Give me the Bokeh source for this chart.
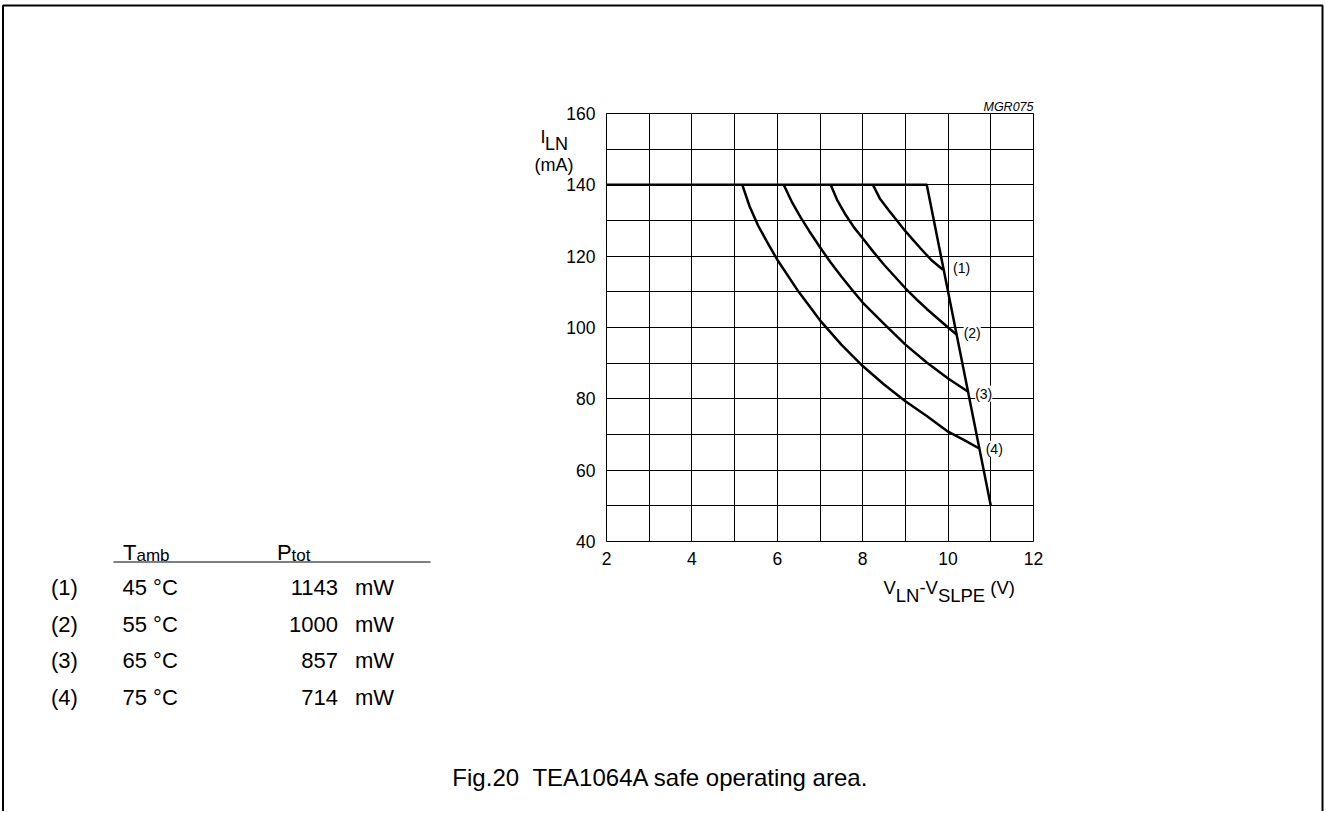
from bokeh.plotting import figure
from bokeh.models import Range1d, FixedTicker, LinearAxis, Grid
from bokeh.core.properties import value
from bokeh.embed import file_html
from bokeh.resources import INLINE

# ---------------- data ----------------
v_tick_values = [2, 4, 6, 8, 10, 12]
i_tick_values = [40, 60, 80, 100, 120, 140, 160]
v_grid_values = [2, 3, 4, 5, 6, 7, 8, 9, 10, 11, 12]
i_grid_values = [40, 50, 60, 70, 80, 90, 100, 110, 120, 130, 140, 150, 160]

limit_v = [2.0, 9.5, 11.0]
limit_i = [140, 140, 50]

curve1_v = [8.24, 8.4, 8.6, 8.8, 9.0, 9.2, 9.4, 9.6, 9.88]
curve1_i = [140, 136.2, 133.0, 130.0, 127.0, 124.3, 121.6, 119.0, 116.2]
curve2_v = [7.25, 7.4, 7.6, 7.8, 8.0, 8.25, 8.5, 8.75, 9.0, 9.25, 9.5, 9.75, 10.0, 10.2]
curve2_i = [140, 135.8, 131.6, 128.0, 125.0, 121.2, 117.6, 114.3, 111.0, 108.0, 105.2, 102.6, 100.0, 98.0]
curve3_v = [6.15, 6.35, 6.55, 6.75, 7.0, 7.25, 7.5, 7.75, 8.0, 8.5, 9.0, 9.5, 10.0, 10.47]
curve3_i = [140, 135.0, 130.8, 127.0, 122.5, 118.2, 114.3, 110.6, 107.0, 101.0, 95.2, 90.2, 85.7, 82.0]
curve4_v = [5.18, 5.35, 5.55, 5.75, 6.0, 6.5, 7.0, 7.5, 8.0, 8.5, 9.0, 9.5, 10.0, 10.4, 10.74]
curve4_i = [140, 134.0, 128.6, 124.2, 119.0, 110.0, 102.0, 95.2, 89.2, 84.0, 79.3, 75.2, 70.8, 68.3, 66.0]

curve_tags = ["(1)", "(2)", "(3)", "(4)"]
t_amb = ["45 \u00b0C", "55 \u00b0C", "65 \u00b0C", "75 \u00b0C"]
p_tot = ["1143", "1000", "857", "714"]
p_unit = ["mW", "mW", "mW", "mW"]

# ---------------- layout ----------------
FONT = "Liberation Sans"
W, H = 1324, 811
# pixel anchors of the chart box (v=2..12, i=40..160)
X0P, X1P = 606.0, 1033.0
YBP, YTP = 541.0, 113.0
KX = (X1P - X0P) / 10.0
KY = (YBP - YTP) / 120.0


def dx(px):
    return 2.0 + (px - X0P) / KX


def dy(py):
    return 160.0 - (py - YTP) / KY


p = figure(width=W, height=H,
           x_range=Range1d(dx(0), dx(W)),
           y_range=Range1d(dy(H), dy(0)),
           x_axis_type=None, y_axis_type=None,
           output_backend="svg", toolbar_location=None, tools="",
           min_border=0)
p.outline_line_color = None
p.background_fill_color = "white"
p.border_fill_color = "white"

# grid
gx = Grid(dimension=0, ticker=FixedTicker(ticks=v_grid_values), bounds=(2, 12),
          cross_bounds=(40, 160), grid_line_color="black", grid_line_width=1,
          grid_line_alpha=1.0)
gy = Grid(dimension=1, ticker=FixedTicker(ticks=i_grid_values), bounds=(40, 160),
          cross_bounds=(2, 12), grid_line_color="black", grid_line_width=1,
          grid_line_alpha=1.0)
p.add_layout(gx, "center")
p.add_layout(gy, "center")

# axes
xa = LinearAxis(ticker=FixedTicker(ticks=v_tick_values), fixed_location=40, bounds=(2, 12))
ya = LinearAxis(ticker=FixedTicker(ticks=i_tick_values), fixed_location=2, bounds=(40, 160))
for ax in (xa, ya):
    ax.major_tick_in = 0
    ax.major_tick_out = 0
    ax.minor_tick_in = 0
    ax.minor_tick_out = 0
    ax.axis_line_color = "black"
    ax.axis_line_width = 1
    ax.major_label_text_font = FONT
    ax.major_label_text_font_size = "17.5px"
    ax.major_label_text_color = "black"
xa.major_label_standoff = 10
ya.major_label_standoff = 11
p.add_layout(xa, "below")
p.add_layout(ya, "left")

# curves
lw = 2.5
p.line(limit_v, limit_i, line_color="black", line_width=lw, line_join="round")
for cv, ci in ((curve1_v, curve1_i), (curve2_v, curve2_i),
               (curve3_v, curve3_i), (curve4_v, curve4_i)):
    p.line(cv, ci, line_color="black", line_width=lw, line_join="round")

# curve tags at the curve ends
ends_v = [curve1_v[-1], curve2_v[-1], curve3_v[-1], curve4_v[-1]]
ends_i = [curve1_i[-1], curve2_i[-1], curve3_i[-1], curve4_i[-1]]
p.text(x=ends_v, y=ends_i, text=curve_tags, x_offset=[10, 7, 7, 6], y_offset=[-2, -2, 2, 0],
       text_font=value(FONT), text_font_size="14px", text_align="left",
       text_baseline="middle", text_color="black", background_fill_color="white")


def txt(xp, yp, s, size, align="left", baseline="alphabetic", style="normal"):
    p.text(x=[dx(xp)], y=[dy(yp)], text=[s], text_font=value(FONT),
           text_font_size=size, text_align=align, text_baseline=baseline,
           text_font_style=style, text_color="black")


# y axis title  I_LN (mA)
txt(540, 136.5, "I", "18px")
txt(544.5, 143, "LN", "18px")
txt(534, 164, "(mA)", "18px")
# x axis title  V_LN-V_SLPE (V)
txt(883, 587, "V", "18.5px")
txt(895.3, 595, "LN", "18.5px")
txt(918.9, 587, "-V", "18.5px")
txt(937.4, 595, "SLPE", "18.5px")
txt(989.8, 587, "(V)", "18.5px")
# code
txt(1033, 106, "MGR075", "12.5px", align="right", style="italic")

# table
txt(122.5, 551.5, "T", "22px")
txt(136, 555, "amb", "17px")
txt(276.5, 551.5, "P", "22px")
txt(291, 555, "tot", "17px")
p.segment(x0=[dx(113)], y0=[dy(561.5)], x1=[dx(430)], y1=[dy(561.5)],
          line_color="black", line_width=1.2)
row_base = [dy(b) for b in (587, 623.5, 660, 696.5)]
common = dict(text_font=value(FONT), text_font_size="22px", text_baseline="alphabetic",
              text_color="black")
p.text(x=[dx(50.5)] * 4, y=row_base, text=curve_tags, text_align="left", **common)
p.text(x=[dx(122)] * 4, y=row_base, text=t_amb, text_align="left", **common)
p.text(x=[dx(337.5)] * 4, y=row_base, text=p_tot, text_align="right", **common)
p.text(x=[dx(354.5)] * 4, y=row_base, text=p_unit, text_align="left", **common)

# caption
txt(660, 776.5, "Fig.20\u00a0\u00a0TEA1064A safe operating area.", "24px", align="center")

# page frame (top, left, right)
p.line(x=[dx(2.5), dx(2.5), dx(1322), dx(1322)], y=[dy(H), dy(5), dy(5), dy(H)],
       line_color="black", line_width=2)

open("out.html", "w").write(file_html(p, INLINE))
